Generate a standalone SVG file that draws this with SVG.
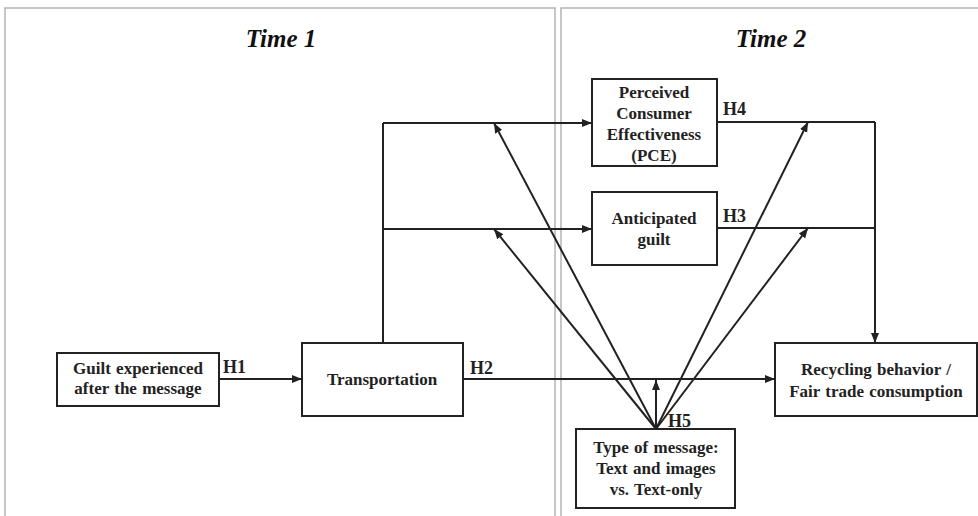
<svg xmlns="http://www.w3.org/2000/svg" width="978" height="516" viewBox="0 0 978 516">
<style>
.panel{fill:none;stroke:#b4b4b4;stroke-width:1.5}
.box{fill:#fff;stroke:#222;stroke-width:2}
.t{font-family:"Liberation Serif","Times New Roman",serif;font-weight:bold;font-size:17px;fill:#222;text-anchor:middle;word-spacing:1px}
.h{font-family:"Liberation Serif","Times New Roman",serif;font-weight:bold;font-size:18px;fill:#222}
.title{font-family:"Liberation Serif","Times New Roman",serif;font-weight:bold;font-style:italic;font-size:25px;fill:#111;text-anchor:middle}
.c{fill:none;stroke:#222;stroke-width:2}
.a{fill:none;stroke:#222;stroke-width:2;marker-end:url(#ah)}
</style>
<defs>
<marker id="ah" viewBox="0 0 10 10" refX="10" refY="5" markerWidth="5" markerHeight="5" orient="auto" markerUnits="strokeWidth">
<path d="M0,1 L10,5 L0,9 Z" fill="#222"/>
</marker>
</defs>
<rect width="978" height="516" fill="#fff"/>
<g id="panels">
<path class="panel" d="M5,516 V8 H555 V516"/>
<path class="panel" d="M561,516 V8 H978"/>
<text class="title" x="281" y="47">Time 1</text>
<text class="title" x="771" y="47">Time 2</text>
</g>
<g id="connectors">
<path class="a" d="M219,379 H302"/>
<path class="c" d="M383,343 V123"/>
<path class="a" d="M383,123 H592"/>
<path class="a" d="M383,229 H592"/>
<path class="a" d="M463,379 H775"/>
<path class="c" d="M717,122 H875"/>
<path class="c" d="M717,228 H875"/>
<path class="a" d="M875,122 V343"/>
<path class="a" d="M656,429 V380"/>
<path class="a" d="M656,429 L494,123"/>
<path class="a" d="M656,429 L494,229"/>
<path class="a" d="M656,429 L808,122"/>
<path class="a" d="M656,429 L808,228"/>
<text class="h" x="223" y="373">H1</text>
<text class="h" x="470" y="374">H2</text>
<text class="h" x="723" y="222">H3</text>
<text class="h" x="723" y="115">H4</text>
<text class="h" x="668" y="427">H5</text>
</g>
<g id="guilt">
<rect class="box" x="57" y="353" width="162" height="53"/>
<text class="t" x="138" y="374">Guilt experienced</text>
<text class="t" x="138" y="394">after the message</text>
</g>
<g id="transportation">
<rect class="box" x="302" y="343" width="161" height="73"/>
<text class="t" x="382" y="385">Transportation</text>
</g>
<g id="pce">
<rect class="box" x="592" y="79" width="125" height="87"/>
<text class="t" x="654" y="98">Perceived</text>
<text class="t" x="654" y="119">Consumer</text>
<text class="t" x="654" y="140">Effectiveness</text>
<text class="t" x="654" y="161">(PCE)</text>
</g>
<g id="anticipated">
<rect class="box" x="592" y="192" width="125" height="73"/>
<text class="t" x="654" y="224">Anticipated</text>
<text class="t" x="654" y="245">guilt</text>
</g>
<g id="recycling">
<rect class="box" x="775" y="343" width="202" height="73"/>
<text class="t" x="876" y="375">Recycling behavior /</text>
<text class="t" x="876" y="397">Fair trade consumption</text>
</g>
<g id="message">
<rect class="box" x="576" y="429" width="159" height="79"/>
<text class="t" x="656" y="453">Type of message:</text>
<text class="t" x="656" y="474">Text and images</text>
<text class="t" x="656" y="495">vs. Text-only</text>
</g>
</svg>
